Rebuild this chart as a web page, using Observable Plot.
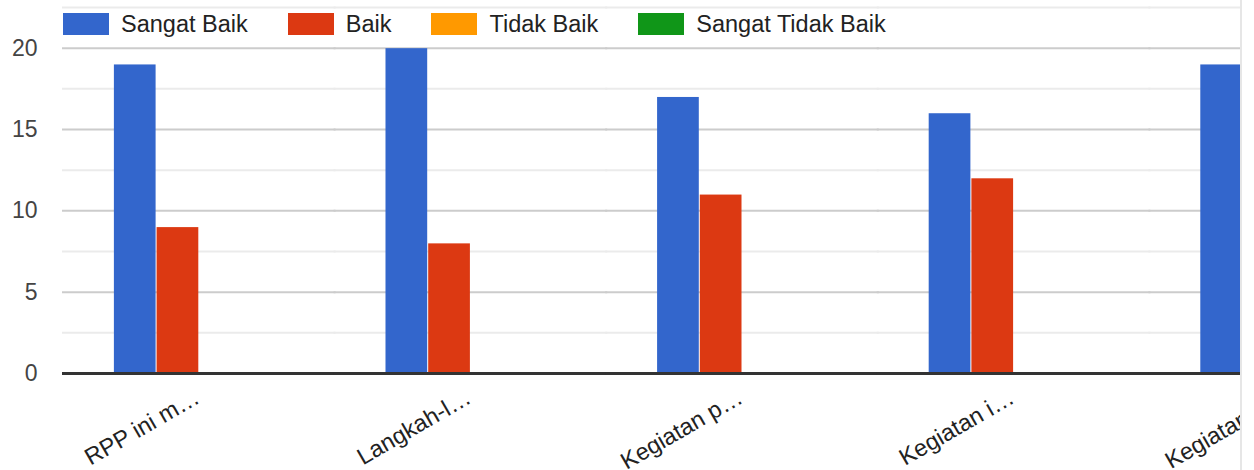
<!DOCTYPE html>
<html>
<head>
<meta charset="utf-8">
<script src="https://cdn.jsdelivr.net/npm/d3@7"></script>
<script src="https://cdn.jsdelivr.net/npm/@observablehq/plot@0.6"></script>
<style>
  html, body { margin: 0; padding: 0; background: #fff; }
  #wrap { position: relative; width: 1254px; height: 470px; overflow: hidden; font-family: Arial, "Liberation Sans", sans-serif; }
  #clip { position: absolute; left: 0; top: 0; width: 1240px; height: 470px; overflow: hidden; border-right: 2px solid #e6e6e6; }
  #clip svg { max-width: none !important; width: 1421px; height: 470px; }
  #legend { position: absolute; left: 63px; top: 13px; display: flex; align-items: center; }
  .item { display: flex; align-items: center; margin-right: 40px; }
  .sw { width: 46px; height: 22px; margin-right: 12px; }
  .lab { font-size: 23.5px; color: #222; line-height: 22px; white-space: nowrap; }
</style>
</head>
<body>
<div id="wrap">
  <div id="clip"></div>
  <div id="legend"></div>
</div>
<script>
const categories = ["RPP ini m…", "Langkah-l…", "Kegiatan p…", "Kegiatan i…", "Kegiatan s…"];
const series = ["Sangat Baik", "Baik", "Tidak Baik", "Sangat Tidak Baik"];
const sangatBaik = [19, 20, 17, 16, 19];
const baik = [9, 8, 11, 12, 9];
const tidakBaik = [0, 0, 0, 0, 0];
const sangatTidakBaik = [0, 0, 0, 0, 0];
const colors = ["#3366cc", "#dc3912", "#ff9900", "#109618"];
const majorTicks = [0, 5, 10, 15, 20];
const minorTicks = [2.5, 7.5, 12.5, 17.5, 22.5];

const valuesBySeries = [sangatBaik, baik, tidakBaik, sangatTidakBaik];
const rows = [];
categories.forEach((c, i) => {
  series.forEach((s, j) => rows.push({category: c, series: s, value: valuesBySeries[j][i]}));
});

const chart = Plot.plot({
  width: 1421,
  height: 470,
  marginLeft: 63,
  marginRight: 0,
  marginTop: 7,
  marginBottom: 97,
  style: {fontFamily: "Arial, 'Liberation Sans', sans-serif", fontSize: "23px", background: "transparent", overflow: "visible"},
  fx: {domain: categories, padding: 0, round: false, label: null},
  x: {domain: series, paddingInner: 0, paddingOuter: 1.18, round: false, axis: null},
  y: {domain: [0, 22.5]},
  color: {domain: series, range: colors},
  marks: [
    Plot.ruleY(minorTicks, {stroke: "#ebebeb", strokeWidth: 2, insetLeft: -1, insetRight: -1}),
    Plot.ruleY(majorTicks.filter(d => d > 0), {stroke: "#cccccc", strokeWidth: 2, insetLeft: -1, insetRight: -1}),
    Plot.barY(rows, {fx: "category", x: "series", y: "value", fill: "series", inset: 0.5}),
    Plot.ruleY([0], {stroke: "#333333", strokeWidth: 3, insetLeft: -1, insetRight: -1}),
    Plot.axisY(majorTicks, {tickSize: 0, tickPadding: 26, fontSize: 23, fill: "#444", label: null}),
    Plot.axisFx({anchor: "bottom", tickSize: 0, tickRotate: -30, tickPadding: 22, dx: -2, fontSize: 23.5, fill: "#222", label: null})
  ]
});
document.getElementById("clip").appendChild(chart);

const legend = document.getElementById("legend");
series.forEach((s, i) => {
  const item = document.createElement("div");
  item.className = "item";
  const sw = document.createElement("div");
  sw.className = "sw";
  sw.style.background = colors[i];
  const lab = document.createElement("span");
  lab.className = "lab";
  lab.textContent = s;
  item.appendChild(sw);
  item.appendChild(lab);
  legend.appendChild(item);
});
</script>
</body>
</html>
